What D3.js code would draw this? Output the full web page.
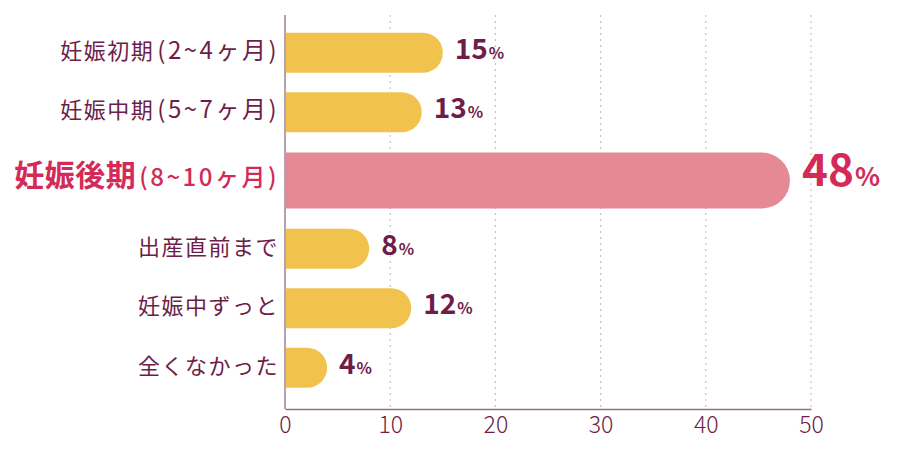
<!DOCTYPE html>
<html><head><meta charset="utf-8">
<script src="https://cdn.jsdelivr.net/npm/d3@7"></script>
<style>html,body{margin:0;padding:0;background:#fff;}svg{display:block;}</style>
</head><body>
<svg id="c" width="900" height="450"></svg>
<script>
const categories = ["妊娠初期", "妊娠中期", "妊娠後期", "出産直前まで", "妊娠中ずっと", "全くなかった"];
const subLabels = ["(2~4ヶ月)", "(5~7ヶ月)", "(8~10ヶ月)", "", "", ""];
const values = [15, 13, 48, 8, 12, 4];
const highlight = [false, false, true, false, false, false];
const xTicks = [0, 10, 20, 30, 40, 50];

(function () {
const svg = d3.select("#c");
const pLeft = 285, pRight = 811, pTop = 15, pBottom = 409;
const font = "'Noto Sans CJK JP', 'Noto Sans', sans-serif";
const maroon = "#6e1d48", red = "#d32a57", yellow = "#f2c24f", pink = "#e58a95";

const x = d3.scaleLinear().domain([0, 50]).range([pLeft, pRight]);

const weights = highlight.map(h => h ? 77 : 59.5);
const cum = [0];
weights.forEach(w => cum.push(cum[cum.length - 1] + w));
const y = d3.scaleLinear().domain([0, cum[cum.length - 1]]).range([23, 23 + cum[cum.length - 1]]);
const rowCenter = i => y(cum[i] + weights[i] / 2);
const barH = i => highlight[i] ? 56 : 40;

svg.append("g").selectAll("line").data(xTicks.filter(t => t > 0)).join("line")
  .attr("x1", d => x(d)).attr("x2", d => x(d))
  .attr("y1", pTop).attr("y2", pBottom)
  .attr("stroke", "#c4c4c4").attr("stroke-width", 1.2).attr("stroke-dasharray", "2,4");

function barPath(x0, x1, yc, h) {
  const r = h / 2;
  const w = x1 - x0;
  const rr = Math.min(r, w);
  return `M${x0},${yc - r}H${x1 - rr}A${rr},${r} 0 0 1 ${x1 - rr},${yc + r}H${x0}Z`;
}
svg.append("g").selectAll("path").data(values).join("path")
  .attr("d", (d, i) => barPath(x(0) + 1, x(d), rowCenter(i), barH(i)))
  .attr("fill", (d, i) => highlight[i] ? pink : yellow);

const xAxis = d3.axisBottom(x).tickValues(xTicks).tickSize(0).tickPadding(8);
const gx = svg.append("g").attr("transform", `translate(0,${pBottom})`).call(xAxis);
gx.select(".domain").attr("stroke", "#9b6b8b").attr("stroke-width", 1.5);
gx.selectAll("text").attr("font-family", font).attr("font-size", 23).attr("font-weight", 300)
  .attr("fill", maroon);

svg.append("line").attr("x1", pLeft).attr("x2", pLeft).attr("y1", pTop).attr("y2", pBottom)
  .attr("stroke", "#9d8296").attr("stroke-width", 1.5);

const lab = svg.append("g").selectAll("text").data(categories).join("text")
  .attr("x", pLeft - 6).attr("y", (d, i) => rowCenter(i))
  .attr("dy", "0.36em").attr("text-anchor", "end")
  .attr("font-family", font)
  .attr("fill", (d, i) => highlight[i] ? red : maroon);
lab.append("tspan")
  .attr("font-size", (d, i) => highlight[i] ? 30 : 22)
  .attr("font-weight", (d, i) => highlight[i] ? 700 : 400)
  .attr("letter-spacing", (d, i) => highlight[i] ? 0.5 : 1.5)
  .text(d => d);
lab.append("tspan")
  .attr("font-size", 24)
  .attr("font-weight", (d, i) => highlight[i] ? 500 : 400)
  .attr("letter-spacing", 2.5)
  .attr("dx", (d, i) => subLabels[i] ? 3 : 0)
  .text((d, i) => subLabels[i]);

const val = svg.append("g").selectAll("text").data(values).join("text")
  .attr("x", (d, i) => x(d) + 12)
  .attr("y", (d, i) => rowCenter(i))
  .attr("dy", "0.36em")
  .attr("font-family", font).attr("font-weight", 700)
  .attr("fill", (d, i) => highlight[i] ? red : maroon);
val.append("tspan").attr("font-size", (d, i) => highlight[i] ? 44 : 28).text(d => d);
val.append("tspan").attr("font-size", (d, i) => highlight[i] ? 26 : 16).attr("dx", 1).text("%");
})();
</script>
</body></html>
